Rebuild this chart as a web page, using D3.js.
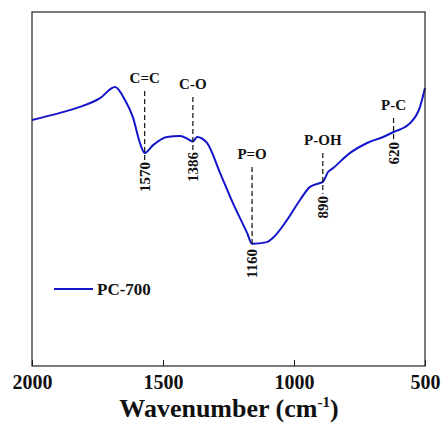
<!DOCTYPE html>
<html>
<head>
<meta charset="utf-8">
<script src="https://cdn.jsdelivr.net/npm/d3@7"></script>
<style>
  body { margin: 0; background: #fff; }
  text { font-family: "Liberation Serif", "Times New Roman", serif; font-weight: bold; fill: #111; }
</style>
</head>
<body>
<div id="chart"></div>
<script>
// spectrum (transmittance, a.u.)
var wavenumber = [2000, 1893, 1817, 1740, 1683, 1645, 1615, 1588, 1570, 1538, 1485, 1435, 1405, 1393, 1386, 1370,
                  1332, 1282, 1233, 1179, 1160, 1103, 1080, 1027, 977, 939, 901, 890, 870, 851, 786, 721, 660, 620, 557, 519, 500];
var transmit   = [69.5, 71.5, 73.2, 75.7, 78.8, 75.1, 70.3, 63.0, 60.2, 62.4, 64.7, 65.0, 64.1, 63.6, 63.4, 64.7,
                  63.0, 54.5, 46.0, 37.6, 34.5, 35.0, 36.2, 41.2, 46.9, 50.6, 51.7, 52.0, 54.8, 55.9, 60.2, 63.0, 64.7, 66.1, 68.6, 73.2, 78.5];

var peakWn    = [1570, 1386, 1160, 890, 620];
var peakNames = ["C=C", "C-O", "P=O", "P-OH", "P-C"];
var xTicks    = [2000, 1500, 1000, 500];

// where the label / number sit for each peak (pixels)
var labelY  = [83, 89, 159, 145, 110];
var numTop  = [162, 152, 249, 196, 142];

var W = 443, H = 425;
var margin = { top: 12, right: 18, bottom: 59, left: 32 };
var iw = W - margin.left - margin.right,
    ih = H - margin.top - margin.bottom;

var svg = d3.select("#chart").append("svg")
    .attr("width", W)
    .attr("height", H);

var g = svg.append("g").attr("transform", "translate(" + margin.left + "," + margin.top + ")");

var x = d3.scaleLinear().domain([2000, 500]).range([0, iw]);
var y = d3.scaleLinear().domain([0, 100]).range([ih, 0]);

var pts = wavenumber.map(function(d, i) { return [d, transmit[i]]; });

var line = d3.line()
    .x(function(d) { return x(d[0]); })
    .y(function(d) { return y(d[1]); })
    .curve(d3.curveMonotoneX);

g.append("path")
    .datum(pts)
    .attr("d", line)
    .attr("fill", "none")
    .attr("stroke", "#1414c8")
    .attr("stroke-width", 2);

// annotations
var curveAt = function(w) {
  var i = wavenumber.indexOf(w);
  return y(transmit[i]);
};

var ann = g.selectAll(".ann").data(peakWn).enter().append("g").attr("class", "ann");

ann.append("line")
    .attr("x1", function(d) { return x(d); })
    .attr("x2", function(d) { return x(d); })
    .attr("y1", function(d, i) { return labelY[i] - margin.top + 8; })
    .attr("y2", function(d, i) { return numTop[i] - margin.top - 2; })
    .attr("stroke", "#111")
    .attr("stroke-width", 1.2)
    .attr("stroke-dasharray", "5,3");

ann.append("text")
    .attr("x", function(d) { return x(d); })
    .attr("y", function(d, i) { return labelY[i] - margin.top; })
    .attr("text-anchor", "middle")
    .style("font-size", "15px")
    .text(function(d, i) { return peakNames[i]; });

ann.append("text")
    .attr("transform", function(d, i) {
      return "translate(" + x(d) + "," + (numTop[i] - margin.top) + ") rotate(-90)";
    })
    .attr("text-anchor", "end")
    .attr("dy", "0.35em")
    .style("font-size", "15px")
    .text(function(d) { return d; });

// frame
g.append("rect")
    .attr("width", iw)
    .attr("height", ih)
    .attr("fill", "none")
    .attr("stroke", "#222")
    .attr("stroke-width", 1.2);

// x axis
var xAxis = g.append("g")
    .attr("transform", "translate(0," + ih + ")")
    .call(d3.axisBottom(x).tickValues(xTicks).tickSizeInner(-6).tickSizeOuter(0).tickPadding(9).tickFormat(d3.format("d")));
xAxis.select(".domain").remove();
xAxis.selectAll("line").attr("stroke", "#222");
xAxis.selectAll("text").style("font-size", "20px").attr("fill", "#111");

var title = svg.append("text")
    .attr("x", 229)
    .attr("y", 417)
    .attr("text-anchor", "middle")
    .style("font-size", "26px");
title.append("tspan").text("Wavenumber (cm");
title.append("tspan").attr("dy", -10).style("font-size", "15px").text("-1");
title.append("tspan").attr("dy", 10).text(")");

// legend
svg.append("line")
    .attr("x1", 54).attr("x2", 93)
    .attr("y1", 289).attr("y2", 289)
    .attr("stroke", "#1414c8")
    .attr("stroke-width", 2);
svg.append("text")
    .attr("x", 97)
    .attr("y", 295)
    .style("font-size", "17px")
    .text("PC-700");
</script>
</body>
</html>
